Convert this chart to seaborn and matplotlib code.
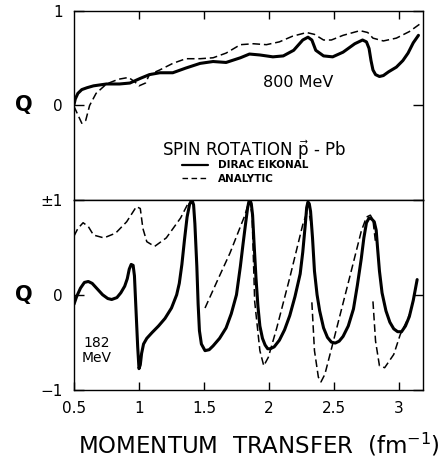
import numpy as np
import pandas as pd
import matplotlib
matplotlib.use("Agg")
import matplotlib.pyplot as plt
import seaborn as sns
from matplotlib.lines import Line2D

# ---------------- data ----------------
# 800 MeV, Dirac eikonal (solid)
q800_dirac = [0.5, 0.51, 0.53, 0.56, 0.60, 0.65, 0.75, 0.85, 0.93, 1.01, 1.08, 1.16, 1.26,
              1.36, 1.47, 1.57, 1.67, 1.78, 1.85, 1.93, 2.03, 2.11, 2.19, 2.26, 2.30, 2.33,
              2.36, 2.42, 2.49, 2.57, 2.66, 2.72, 2.75, 2.77, 2.785, 2.80, 2.82, 2.85, 2.88,
              2.92, 2.98, 3.03, 3.07, 3.11, 3.15]
Q800_dirac = [0.0, 0.06, 0.12, 0.16, 0.18, 0.20, 0.22, 0.22, 0.23, 0.28, 0.32, 0.34, 0.34,
              0.39, 0.44, 0.46, 0.45, 0.50, 0.54, 0.53, 0.51, 0.52, 0.58, 0.69, 0.72, 0.69,
              0.58, 0.52, 0.51, 0.56, 0.65, 0.69, 0.67, 0.60, 0.47, 0.37, 0.32, 0.30, 0.31,
              0.35, 0.40, 0.47, 0.55, 0.66, 0.74]

# 800 MeV, analytic (dashed)
q800_analytic = [0.5, 0.53, 0.56, 0.59, 0.62, 0.67, 0.75, 0.84, 0.92, 0.97, 1.00, 1.05, 1.08,
                 1.16, 1.26, 1.36, 1.47, 1.57, 1.67, 1.78, 1.88, 1.98, 2.08, 2.18, 2.29, 2.35,
                 2.42, 2.48, 2.57, 2.70, 2.76, 2.80, 2.88, 2.98, 3.08, 3.17]
Q800_analytic = [-0.02, -0.11, -0.20, -0.17, -0.01, 0.12, 0.22, 0.27, 0.29, 0.24, 0.20, 0.23,
                 0.32, 0.37, 0.44, 0.49, 0.49, 0.50, 0.55, 0.64, 0.65, 0.64, 0.67, 0.73, 0.77,
                 0.75, 0.69, 0.69, 0.74, 0.79, 0.77, 0.71, 0.68, 0.71, 0.78, 0.87]

# 182 MeV, Dirac eikonal (solid)
q182_dirac = [0.5, 0.52, 0.55, 0.58, 0.61, 0.64, 0.68, 0.72, 0.76, 0.79, 0.83, 0.86, 0.89,
              0.91, 0.925, 0.94, 0.955, 0.965, 0.975, 0.99, 1.00, 1.01, 1.02, 1.035, 1.06,
              1.10, 1.15, 1.20, 1.25, 1.29, 1.31, 1.33, 1.35, 1.37, 1.39, 1.41, 1.42, 1.43,
              1.445, 1.455, 1.465, 1.48, 1.508, 1.54, 1.57, 1.62, 1.67, 1.71, 1.75, 1.78,
              1.80, 1.82, 1.835, 1.845, 1.854, 1.864, 1.874, 1.885, 1.90, 1.915, 1.93, 1.95,
              1.97, 1.99, 2.01, 2.04, 2.08, 2.12, 2.16, 2.20, 2.24, 2.26, 2.28, 2.29, 2.30,
              2.31, 2.32, 2.335, 2.35, 2.37, 2.39, 2.42, 2.45, 2.48, 2.51, 2.54, 2.57, 2.61,
              2.65, 2.68, 2.71, 2.73, 2.75, 2.77, 2.79, 2.81, 2.825, 2.835, 2.85, 2.87, 2.90,
              2.93, 2.96, 2.99, 3.02, 3.05, 3.08, 3.11, 3.14]
Q182_dirac = [-0.10, -0.02, 0.07, 0.13, 0.14, 0.12, 0.06, 0.0, -0.04, -0.05, -0.03, 0.02, 0.09,
              0.17, 0.27, 0.32, 0.31, 0.20, -0.10, -0.55, -0.78, -0.74, -0.62, -0.52, -0.46,
              -0.40, -0.33, -0.25, -0.14, 0.0, 0.12, 0.32, 0.58, 0.82, 0.96, 0.99, 0.95, 0.75,
              0.30, -0.10, -0.38, -0.52, -0.59, -0.58, -0.54, -0.46, -0.35, -0.20, 0.0, 0.30,
              0.53, 0.75, 0.91, 0.98, 1.0, 0.96, 0.84, 0.55, 0.18, -0.12, -0.33, -0.46,
              -0.53, -0.57, -0.57, -0.55, -0.48, -0.37, -0.22, -0.02, 0.22, 0.45, 0.75, 0.92, 0.98,
              0.96, 0.88, 0.60, 0.25, 0.0, -0.17, -0.35, -0.45, -0.50, -0.51, -0.49, -0.44, -0.33,
              -0.15, 0.10, 0.38, 0.60, 0.76, 0.81, 0.80, 0.77, 0.68, 0.50, 0.25, 0.02, -0.17,
              -0.29, -0.36, -0.39, -0.39, -0.33, -0.23, -0.06, 0.16]

# 182 MeV, analytic (dashed), in separate branches
q182_analytic_1 = [0.5, 0.53, 0.57, 0.61, 0.65, 0.73, 0.82, 0.905, 0.98, 1.01, 1.03, 1.06, 1.12,
                   1.21, 1.32, 1.38, 1.41]
Q182_analytic_1 = [0.62, 0.70, 0.76, 0.72, 0.63, 0.60, 0.65, 0.77, 0.93, 0.91, 0.70, 0.56, 0.51,
                   0.60, 0.81, 0.97, 1.0]
q182_analytic_2 = [1.508, 1.60, 1.70, 1.815, 1.85, 1.87, 1.89, 1.93, 1.96, 1.995, 2.06, 2.16,
                   2.26, 2.29, 2.31, 2.32]
Q182_analytic_2 = [-0.14, 0.14, 0.44, 0.84, 1.0, 0.85, -0.07, -0.59, -0.75, -0.66, -0.35, 0.18,
                   0.74, 0.86, 0.85, 0.78]
q182_analytic_3 = [2.33, 2.35, 2.38, 2.40, 2.43, 2.49, 2.62, 2.71, 2.75, 2.78, 2.80, 2.82]
Q182_analytic_3 = [-0.08, -0.59, -0.87, -0.92, -0.84, -0.52, 0.18, 0.67, 0.82, 0.84, 0.79, 0.55]
q182_analytic_4 = [2.80, 2.82, 2.85, 2.89, 2.96, 3.01, 3.06, 3.08]
Q182_analytic_4 = [-0.07, -0.49, -0.75, -0.77, -0.63, -0.42, -0.28, -0.21]

x_ticks = [0.5, 1, 1.5, 2, 2.5, 3]
x_tick_labels = ["0.5", "1", "1.5", "2", "2.5", "3"]
top_y_ticks = [0, 1]
top_y_tick_labels = ["0", "1"]
bot_y_ticks = [-1, 0, 1]
bot_y_tick_labels = ["\u22121", "0", "\u00b11"]

# ---------------- build tables ----------------
def frame(segments):
    rows = []
    for k, (qs, Qs) in enumerate(segments):
        for a, b in zip(qs, Qs):
            rows.append({"q": a, "Q": b, "seg": k})
    return pd.DataFrame(rows)

top_dirac = frame([(q800_dirac, Q800_dirac)])
top_anal = frame([(q800_analytic, Q800_analytic)])
bot_dirac = frame([(q182_dirac, Q182_dirac)])
bot_anal = frame([(q182_analytic_1, Q182_analytic_1), (q182_analytic_2, Q182_analytic_2),
                  (q182_analytic_3, Q182_analytic_3), (q182_analytic_4, Q182_analytic_4)])

# ---------------- style ----------------
sns.set_style("ticks")
plt.rcParams["font.family"] = ["DejaVu Sans"]
for k in ["text.color", "axes.labelcolor", "xtick.color", "ytick.color", "axes.edgecolor"]:
    plt.rcParams[k] = "black"
plt.rcParams["axes.linewidth"] = 1.0

DASH = (0, (5, 2.5))
LW_SOLID = 2.2
LW_DASH = 1.1

fig = plt.figure(figsize=(4.48, 4.76), dpi=100)
W, H = 448.0, 476.0
ax1 = fig.add_axes([74 / W, 1 - 200 / H, 349 / W, 189 / H])
ax2 = fig.add_axes([74 / W, 1 - 389.5 / H, 349 / W, 189.5 / H])

for ax, dsol, dda in [(ax1, top_dirac, top_anal), (ax2, bot_dirac, bot_anal)]:
    sns.lineplot(data=dda, x="q", y="Q", units="seg", estimator=None, sort=False,
                 color="black", linewidth=LW_DASH, linestyle=DASH, ax=ax, legend=False)
    sns.lineplot(data=dsol, x="q", y="Q", units="seg", estimator=None, sort=False,
                 color="black", linewidth=LW_SOLID, ax=ax, legend=False)
    ax.set_xlim(0.5, 3.185)
    for s in ax.spines.values():
        s.set_visible(True)
        s.set_color("black")
        s.set_linewidth(1.0)

ax1.set_ylim(-1.02, 1)
ax2.set_ylim(-1, 1)

# top panel ticks
ax1.set_xticks(x_ticks[1:])
ax1.tick_params(axis="x", direction="in", length=6, width=1, top=True, bottom=False,
                labeltop=False, labelbottom=False, color="black")
ax1.set_yticks(top_y_ticks)
ax1.set_yticklabels(top_y_tick_labels)
ax1.tick_params(axis="y", direction="in", length=7, width=1, left=True, right=True,
                labelsize=11, pad=8, color="black", labelcolor="black")

# bottom panel ticks
ax2.set_xticks(x_ticks)
ax2.set_xticklabels(x_tick_labels)
ax2.tick_params(axis="x", direction="in", length=6, width=1, top=False, bottom=True,
                labelsize=11, pad=8, color="black", labelcolor="black")
ax2.set_yticks(bot_y_ticks)
ax2.set_yticklabels(bot_y_tick_labels)
ax2.tick_params(axis="y", direction="in", length=7, width=1, left=True, right=True,
                labelsize=11, pad=8, color="black", labelcolor="black")

for ax, yc in [(ax1, 0.505), (ax2, 0.5)]:
    ax.set_ylabel("Q", rotation=0, fontsize=15, fontweight="bold", va="center", ha="center",
                  color="black")
    ax.yaxis.set_label_coords(-0.145, yc)

ax1.set_xlabel("")
ax2.set_xlabel("MOMENTUM  TRANSFER  (fm$^{-1}$)", fontsize=16.5, color="black")
ax2.xaxis.set_label_coords(0.531, -0.22)

# annotations
ax1.text(0.542, 0.624, "800 MeV", transform=ax1.transAxes, fontsize=11.5,
         ha="left", va="center", color="black")
ax1.text(0.252, 0.265, r"SPIN ROTATION $\vec{\mathrm{p}}$ - Pb", transform=ax1.transAxes,
         fontsize=12, ha="left", va="center", color="black")
handles = [Line2D([], [], color="black", lw=1.6),
           Line2D([], [], color="black", lw=1.0, linestyle=(0, (4, 2.5)))]
ax1.legend(handles, ["DIRAC EIKONAL", "ANALYTIC"], loc="upper left",
           bbox_to_anchor=(0.309, 0.21), frameon=False,
           prop={"weight": "bold", "size": 7.5}, handlelength=2.5, handletextpad=1.0,
           labelspacing=0.35, borderpad=0, borderaxespad=0, labelcolor="black")
ax2.text(0.023, 0.208, "182\nMeV", transform=ax2.transAxes, fontsize=10,
         ha="left", va="center", multialignment="center", linespacing=1.1, color="black")

fig.savefig("out.png", dpi=100)
